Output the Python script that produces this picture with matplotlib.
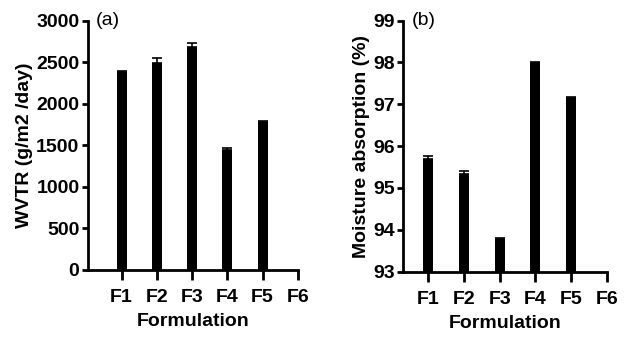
import numpy as np
import matplotlib.pyplot as plt

plt.rcParams['font.family'] = ['Liberation Sans', 'DejaVu Sans']

# data
formulations = ['F1', 'F2', 'F3', 'F4', 'F5', 'F6']
wvtr = [2390, 2490, 2680, 1440, 1780]
wvtr_err = [10, 60, 50, 30, 15]
moisture = [95.70, 95.34, 93.78, 97.98, 97.14]
moisture_err = [0.06, 0.07, 0.02, 0.02, 0.03]

fig = plt.figure(figsize=(6.27, 3.37), dpi=100)
ax1 = fig.add_axes([0.140, 0.199, 0.335, 0.739])
ax2 = fig.add_axes([0.643, 0.194, 0.325, 0.745])

pos = np.arange(1, len(formulations) + 1)

def draw(ax, vals, errs, ylim, yticks, ylabel, tag, xlo):
    x = pos[:len(vals)]
    ax.bar(x, np.array(vals) - ylim[0], bottom=ylim[0], width=0.28, color='black')
    ax.errorbar(x, vals, yerr=[np.zeros(len(errs)), errs], fmt='none',
                ecolor='black', elinewidth=1.2, capsize=3.5, capthick=1.2)
    ax.set_xlim(xlo, 6)
    ax.set_ylim(*ylim)
    ax.set_yticks(yticks)
    ax.set_xticks(pos)
    ax.set_xticklabels(formulations)
    for s in ['top', 'right']:
        ax.spines[s].set_visible(False)
    for s in ['left', 'bottom']:
        ax.spines[s].set_linewidth(2)
    ax.tick_params(width=2, labelsize=14)
    ax.tick_params(axis='x', length=7, pad=7)
    ax.tick_params(axis='y', length=4, pad=2)
    for lab in ax.get_xticklabels() + ax.get_yticklabels():
        lab.set_fontweight('bold')
    ax.set_ylabel(ylabel, fontsize=14, fontweight='bold', labelpad=2)
    ax.set_xlabel('Formulation', fontsize=14, fontweight='bold', labelpad=5)
    ax.text(0.04, 1.0, tag, transform=ax.transAxes, fontsize=14, va='center', ha='left')

draw(ax1, wvtr, wvtr_err, (0, 3000), range(0, 3001, 500), 'WVTR (g/m2 /day)', '(a)', 0.04)
draw(ax2, moisture, moisture_err, (93, 99), range(93, 100), 'Moisture absorption (%)', '(b)', 0.3)

fig.savefig('out.png', dpi=100)
